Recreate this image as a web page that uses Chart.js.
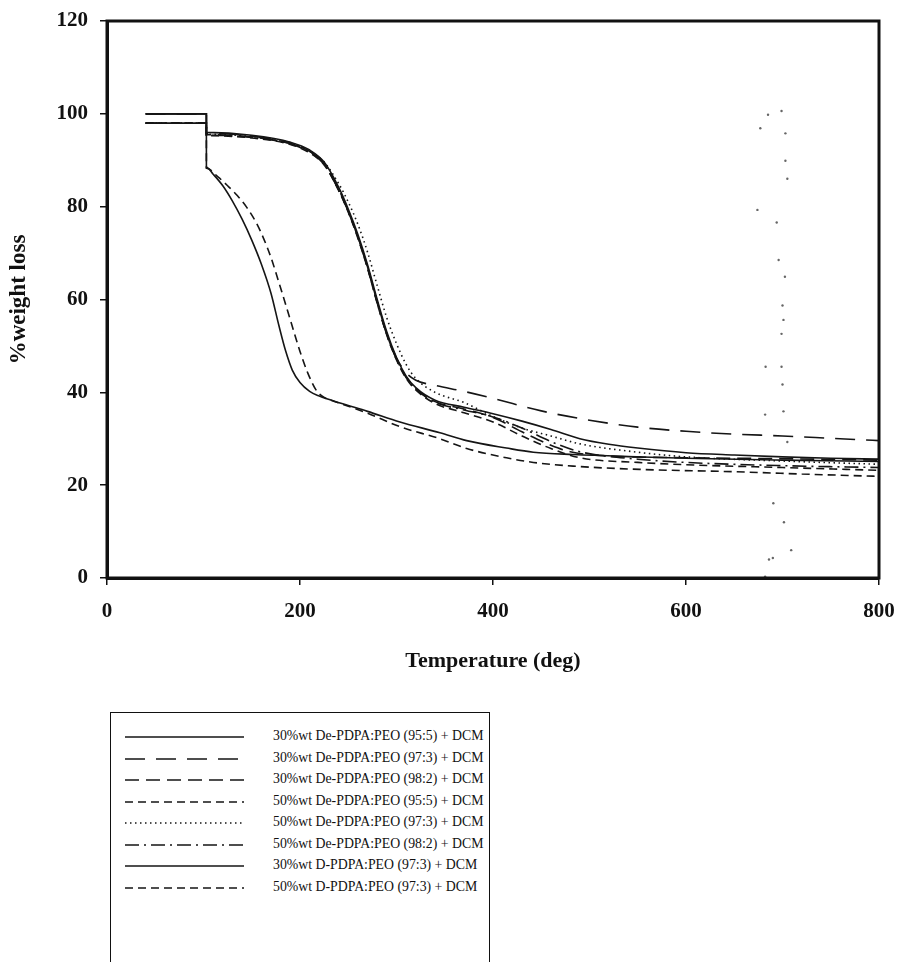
<!DOCTYPE html>
<html>
<head>
<meta charset="utf-8">
<script src="https://cdn.jsdelivr.net/npm/chart.js@4.4.1/dist/chart.umd.min.js"></script>
<style>
  body { margin:0; background:#fff; width:901px; height:962px; overflow:hidden; position:relative; font-family:'Liberation Serif', serif; }
  #wrap { position:absolute; left:0; top:0; width:901px; height:700px; }
  #legend { position:absolute; left:110px; top:712px; width:380px; height:300px; border:1.5px solid #111; box-sizing:border-box; }
  .row { position:absolute; left:0; height:22px; width:100%; }
  .row svg { position:absolute; left:14px; top:9px; }
  .row span { position:absolute; left:162px; top:2px; font-size:13.8px; color:#111; white-space:nowrap; }
</style>
</head>
<body>
<div id="wrap"><canvas id="myChart" width="901" height="700"></canvas></div>
<div id="legend"></div>
<script>
  // tick values
  const xTicks = [0, 200, 400, 600, 800];
  const yTicks = [0, 20, 40, 60, 80, 100, 120];

  const seriesNames = [
    '30%wt De-PDPA:PEO (95:5) + DCM',
    '30%wt De-PDPA:PEO (97:3) + DCM',
    '30%wt De-PDPA:PEO (98:2) + DCM',
    '50%wt De-PDPA:PEO (95:5) + DCM',
    '50%wt De-PDPA:PEO (97:3) + DCM',
    '50%wt De-PDPA:PEO (98:2) + DCM',
    '30%wt D-PDPA:PEO (97:3) + DCM',
    '50%wt D-PDPA:PEO (97:3) + DCM'
  ];

  // [temperature, %weight]
  const de30_95_5 = [[40,100],[103,100],[103,96],[150,95.4],[190,93.9],[210,92.2],[225,89.6],[240,84.2],[250,79.5],[260,74],[270,67.5],[280,60],[290,53],[300,47.5],[310,43.5],[320,41],[340,38.3],[370,36.8],[400,35.4],[430,33.8],[460,32],[490,30],[520,28.8],[550,28],[600,27],[650,26.5],[700,26.1],[750,25.8],[800,25.6]];
  const de30_97_3 = [[40,100],[103,100],[103,95.8],[150,95.2],[190,93.6],[210,91.9],[225,89.3],[240,83.6],[250,79],[260,73.5],[270,67],[280,59.5],[290,52.6],[300,47.4],[310,44.2],[320,42.6],[340,41.5],[370,40.2],[400,38.7],[450,36],[500,34],[550,32.5],[600,31.6],[650,31],[700,30.6],[750,30.1],[800,29.6]];
  const de30_98_2 = [[40,98],[103,98],[103,95.5],[150,95],[190,93.6],[210,91.9],[225,89.3],[240,83.8],[250,79],[260,73.5],[270,67],[280,59.5],[290,52.5],[300,47.2],[310,43.3],[320,40.8],[340,38],[370,36.4],[400,34.6],[430,31.5],[460,28.6],[480,27.2],[520,26.3],[600,25.9],[700,25.7],[800,25.4]];
  const de50_95_5 = [[40,98],[103,98],[103,95.3],[150,94.8],[190,93.4],[210,91.6],[225,89],[240,83.5],[250,78.8],[260,73.2],[270,66.7],[280,59.2],[290,52.3],[300,47],[310,43],[320,40.5],[340,37.6],[370,35.6],[400,33.6],[430,30.6],[460,27.9],[490,25.9],[550,24.9],[600,24.4],[700,23.8],[800,23.2]];
  const de50_97_3 = [[40,98],[103,98],[103,95.6],[150,95.1],[190,93.8],[210,92],[225,89.6],[240,85],[250,81],[260,76.2],[270,70.2],[280,63],[290,56],[300,50.5],[310,46],[320,43],[340,40],[370,37.8],[400,34.8],[430,32.3],[460,30.6],[490,28.9],[550,27.1],[600,26.1],[700,25.2],[800,24.5]];
  const de50_98_2 = [[40,98],[103,98],[103,95.4],[150,94.9],[190,93.5],[210,91.7],[225,89.1],[240,83.6],[250,79],[260,73.4],[270,66.8],[280,59.3],[290,52.4],[300,47.1],[310,43.2],[320,40.7],[340,37.9],[370,36.2],[400,34.7],[430,32.3],[460,29.4],[490,27.2],[550,25.6],[600,24.9],[700,24.2],[800,23.8]];
  const d30_97_3 = [[40,100],[103,100],[103,88.5],[110,87],[120,84.5],[130,81.2],[140,77.3],[150,72.8],[160,67.6],[170,61.3],[178,54.5],[185,49],[192,44.8],[200,42.1],[210,40.2],[220,39.2],[241.5,37.7],[270,35.9],[303.6,33.6],[345,31.3],[372.7,29.6],[414,28],[441.8,27.1],[483,26.6],[552,26.1],[600,25.8],[700,25.4],[800,25.1]];
  const d50_97_3 = [[40,98],[103,98],[103,88.3],[115,86.4],[125,84.5],[135,82.4],[145,79.8],[155,76.4],[163,72.8],[170,69],[180,62.4],[190,55.6],[200,48.8],[208,44.2],[217,40.4],[226,38.8],[235,38.1],[270,35.5],[303.6,32.6],[345,30],[372.7,27.9],[414,25.9],[441.8,24.9],[483,24.1],[552,23.4],[649,22.9],[720,22.4],[800,21.9]];

  // loose specks on the scan near 700 deg
  const specks = [[685,99.8],[699,100.6],[677,96.9],[703,95.8],[703,89.9],[705,86],[674,79.3],[694,76.6],[696,68.5],[702.5,64.9],[700,58.7],[701,55.6],[699,52.6],[682.5,45.5],[699,45.5],[700,41.7],[682,35.2],[701,35.9],[705,29.3],[690.5,16.1],[701.5,12],[709,6],[686,4],[690,4.3],[682,0.3]];

  const allSeries = [de30_95_5, de30_97_3, de30_98_2, de50_95_5, de50_97_3, de50_98_2, d30_97_3, d50_97_3];
  const dashes = [[], [20,11], [14,7], [8,5], [1.5,3.5], [14,5,2,5], [], [8,5]];

  const toXY = arr => arr.map(p => ({x: p[0], y: p[1]}));

  const datasets = allSeries.map((s, i) => ({
    label: seriesNames[i],
    data: toXY(s),
    borderColor: '#151515',
    borderWidth: 1.6,
    borderDash: dashes[i],
    pointRadius: 0,
    cubicInterpolationMode: 'monotone',
    fill: false
  }));
  datasets.push({
    type: 'scatter',
    label: 'specks',
    data: toXY(specks),
    pointRadius: 1.2,
    pointBackgroundColor: '#666',
    pointBorderWidth: 0,
    showLine: false
  });

  const frame = {
    id: 'frame',
    afterDraw(chart) {
      const a = chart.chartArea, ctx = chart.ctx;
      ctx.save();
      ctx.strokeStyle = '#111';
      ctx.lineWidth = 3;
      ctx.strokeRect(a.left, a.top, a.right - a.left, a.bottom - a.top);
      ctx.restore();
    }
  };

  const font = 'Liberation Serif';

  const myChart = new Chart(document.getElementById('myChart'), {
    type: 'line',
    data: { datasets: datasets },
    options: {
      responsive: false,
      animation: false,
      layout: { padding: { top: 21, right: 22, left: 0, bottom: 0 } },
      plugins: { legend: { display: false }, tooltip: { enabled: false } },
      scales: {
        x: {
          type: 'linear', min: 0, max: 800,
          afterBuildTicks: s => { s.ticks = xTicks.map(v => ({value: v})); },
          afterFit: s => { s.height = 122; s.paddingLeft = 0; s.paddingRight = 0; },
          grid: { drawOnChartArea: false, tickLength: 7, color: '#111', lineWidth: 1.5 },
          border: { color: '#111', width: 3 },
          ticks: { color: '#111', padding: 14, font: { family: font, size: 21, weight: 'bold' } },
          title: { display: true, text: 'Temperature (deg)', color: '#111', padding: { top: 0, bottom: 25 }, font: { family: font, size: 22, weight: 'bold' } }
        },
        y: {
          min: 0, max: 120,
          afterBuildTicks: s => { s.ticks = yTicks.map(v => ({value: v})); },
          afterFit: s => { s.width = 107; s.paddingTop = 0; s.paddingBottom = 0; },
          grid: { drawOnChartArea: false, tickLength: 7, color: '#111', lineWidth: 1.5 },
          border: { color: '#111', width: 3 },
          ticks: { color: '#111', padding: 12, font: { family: font, size: 21, weight: 'bold' } },
          title: { display: true, text: '%weight loss', color: '#111', padding: { top: 5, bottom: 0 }, font: { family: font, size: 23, weight: 'bold' } }
        }
      }
    },
    plugins: [frame]
  });

  // legend box below the chart
  const legend = document.getElementById('legend');
  myChart.data.datasets.forEach((d, i) => {
    if (d.type === 'scatter') return;
    const row = document.createElement('div');
    row.className = 'row';
    row.style.top = (13 + i * 21.5) + 'px';
    const dash = (d.borderDash || []).join(',');
    row.innerHTML = '<svg width="122" height="4"><line x1="0" y1="2" x2="119" y2="2" stroke="#151515" stroke-width="1.5"' +
      (dash ? ' stroke-dasharray="' + dash + '"' : '') + '/></svg><span>' + d.label + '</span>';
    legend.appendChild(row);
  });
</script>
</body>
</html>
